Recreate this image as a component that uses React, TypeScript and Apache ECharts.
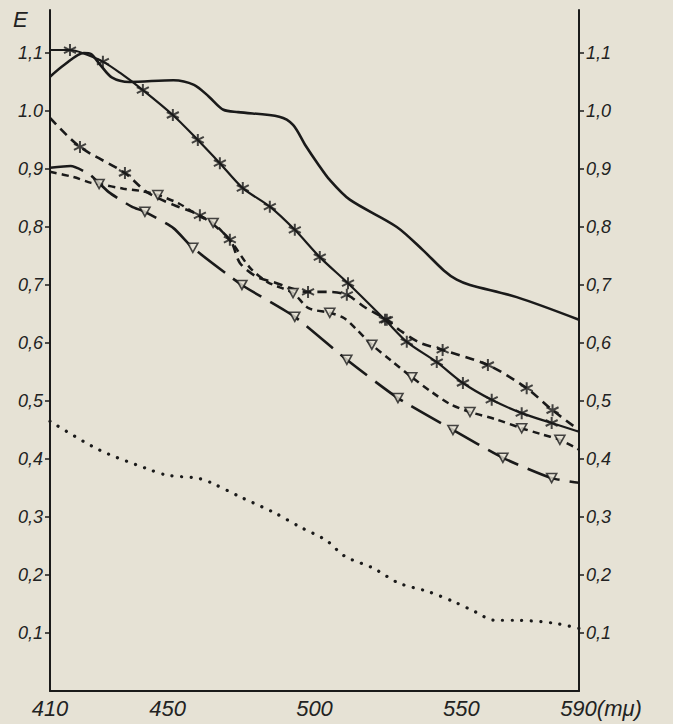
import React, { useEffect, useRef } from "react";
import * as echarts from "echarts";

// wavelength ticks (mμ) and absorbance ticks
const xTicks = [410, 450, 500, 550, 590];
const yTicks = [0.1, 0.2, 0.3, 0.4, 0.5, 0.6, 0.7, 0.8, 0.9, 1.0, 1.1];
const yLabelsLeft = ["0,1", "0,2", "0,3", "0,4", "0,5", "0,6", "0,7", "0,8", "0,9", "1.0", "1,1"];
const yLabelsRight = ["0,1", "0,2", "0,3", "0,4", "0,5", "0,6", "0,7", "0,8", "0,9", "1,0", "1,1"];

// plain solid curve
const plainCurve: [number, number][] = [
  [410, 1.059], [415, 1.08], [421.5, 1.1], [424, 1.098], [427, 1.08], [431, 1.058],
  [437, 1.05], [452, 1.053], [459, 1.045], [464, 1.025], [469, 1.002], [474, 0.998],
  [488, 0.99], [492.7, 0.976], [497, 0.94], [501, 0.91], [505.2, 0.881], [512, 0.847],
  [528, 0.8], [536.9, 0.76], [544, 0.725], [548.4, 0.709], [552.9, 0.7], [568.8, 0.679],
  [590, 0.64],
];

// solid curve with asterisks
const starSolidCurve: [number, number][] = [
  [410, 1.105], [416.8, 1.105], [421, 1.1], [428, 1.085], [434, 1.065], [441.6, 1.036],
  [451.8, 0.993], [460.3, 0.95], [467.8, 0.91], [475.6, 0.867], [484.8, 0.835],
  [493.3, 0.795], [501.8, 0.748], [511.4, 0.703], [524, 0.64], [531.4, 0.602],
  [541.6, 0.567], [550.5, 0.531], [560.3, 0.502], [570.5, 0.479], [580.7, 0.462],
  [590, 0.447],
];
const starSolidMarks: [number, number][] = [
  [416.8, 1.105], [428, 1.085], [441.6, 1.036], [451.8, 0.993], [460.3, 0.95],
  [467.8, 0.91], [475.6, 0.867], [484.8, 0.835], [493.3, 0.795], [501.8, 0.748],
  [511.4, 0.703], [524, 0.64], [531.4, 0.602], [541.6, 0.567], [550.5, 0.531],
  [560.3, 0.502], [570.5, 0.479], [580.7, 0.462],
];

// dashed curve with asterisks
const starDashCurve: [number, number][] = [
  [410, 0.988], [420.2, 0.938], [435.5, 0.893], [443, 0.86], [452, 0.838], [461, 0.82],
  [471.2, 0.778], [474.6, 0.738], [480, 0.715], [486, 0.705], [497.8, 0.688], [505, 0.688],
  [511, 0.683], [517, 0.662], [524.6, 0.64], [529, 0.622], [536, 0.6], [543.6, 0.588],
  [559, 0.562], [572.2, 0.522], [581, 0.484], [590, 0.45],
];
const starDashMarks: [number, number][] = [
  [420.2, 0.938], [435.5, 0.893], [461, 0.82], [471.2, 0.778], [497.8, 0.688],
  [511, 0.683], [524.6, 0.64], [543.6, 0.588], [559, 0.562], [572.2, 0.522], [581, 0.484],
];

// short-dashed curve with triangles
const triDashCurve: [number, number][] = [
  [410, 0.895], [418, 0.886], [424, 0.876], [426.7, 0.874], [435, 0.866], [441, 0.862],
  [446.7, 0.855], [454, 0.84], [461, 0.818], [465.5, 0.807], [472, 0.772], [478, 0.73],
  [484, 0.705], [492.7, 0.686], [498, 0.66], [505.2, 0.652], [510, 0.643], [514, 0.625],
  [519.5, 0.597], [526, 0.57], [533.1, 0.541], [540, 0.515], [546, 0.495], [552.9, 0.481],
  [562, 0.468], [570.5, 0.453], [577, 0.443], [583.5, 0.433], [590, 0.416],
];
const triDashMarks: [number, number][] = [
  [426.7, 0.874], [446.7, 0.855], [465.5, 0.807], [492.7, 0.686], [505.2, 0.652],
  [519.5, 0.597], [533.1, 0.541], [552.9, 0.481], [570.5, 0.453], [583.5, 0.433],
];

// long-dashed curve with triangles
const triLongCurve: [number, number][] = [
  [410, 0.902], [417, 0.905], [423.6, 0.89], [430, 0.86], [437.8, 0.835], [442.3, 0.826],
  [452, 0.798], [458.6, 0.764], [475.3, 0.7], [493.3, 0.645], [511, 0.571], [528.4, 0.505],
  [547.1, 0.45], [564.1, 0.402], [580.7, 0.367], [590, 0.359],
];
const triLongMarks: [number, number][] = [
  [442.3, 0.826], [458.6, 0.764], [475.3, 0.7], [493.3, 0.645], [511, 0.571],
  [528.4, 0.505], [547.1, 0.45], [564.1, 0.402], [580.7, 0.367],
];

// dotted curve
const dottedCurve: [number, number][] = [
  [410, 0.465], [426.6, 0.416], [442.6, 0.384], [449.9, 0.372], [460, 0.367], [464.4, 0.36],
  [474.6, 0.335], [486.5, 0.307], [495, 0.283], [503.9, 0.26], [510.4, 0.232], [519.9, 0.212],
  [528.7, 0.186], [538.9, 0.171], [547.8, 0.153], [554.9, 0.136], [561, 0.122], [568.2, 0.122],
  [581.4, 0.117], [590, 0.108],
];

const INK = "#1a1a1a";
const PAPER = "#e6e2d5";
const STAR = "path://M5,0L5,10M0.67,2.5L9.33,7.5M0.67,7.5L9.33,2.5";
const FONT = "Liberation Sans";

export default function App() {
  const ref = useRef<HTMLDivElement>(null);
  useEffect(() => {
    document.body.style.margin = "0";
    if (!ref.current) return;
    const chart = echarts.init(ref.current, null, { renderer: "svg" });
    const lineSeries = (data: [number, number][], type: any, width: number, smooth: number, extra: any = {}) => ({
      type: "line",
      data,
      showSymbol: false,
      symbol: "none",
      smooth,
      lineStyle: { color: INK, width, type, ...extra },
      z: 2,
      silent: true,
    });
    const starMarks = (data: [number, number][]) => ({
      type: "scatter",
      data,
      symbol: STAR,
      symbolSize: 12,
      itemStyle: { color: INK, borderColor: INK, borderWidth: 2 },
      z: 4,
      silent: true,
    });
    const triMarks = (data: [number, number][]) => ({
      type: "scatter",
      data,
      symbol: "triangle",
      symbolRotate: 180,
      symbolSize: [10, 9],
      itemStyle: { color: PAPER, borderColor: INK, borderWidth: 1.6 },
      z: 4,
      silent: true,
    });
    const yAxisBase = (labels: string[], position: string) => ({
      type: "value",
      position,
      min: 0,
      max: 1.174,
      splitLine: { show: false },
      axisLine: { show: true, lineStyle: { color: INK, width: 2 } },
      axisTick: { show: true, length: 5, customValues: yTicks, lineStyle: { color: INK, width: 1.5 } },
      axisLabel: {
        customValues: yTicks,
        margin: 7,
        color: "#222",
        fontFamily: FONT,
        fontStyle: "italic",
        fontSize: 18,
        formatter: (v: number) => {
          const i = yTicks.findIndex((t) => Math.abs(t - v) < 1e-6);
          return i >= 0 ? labels[i] : "";
        },
      },
    });
    chart.setOption({
      animation: false,
      backgroundColor: PAPER,
      grid: { left: 50, right: 94, top: 10, bottom: 33 },
      xAxis: {
        type: "value",
        min: 410,
        max: 590,
        splitLine: { show: false },
        axisLine: { show: true, onZero: false, lineStyle: { color: INK, width: 2 } },
        axisTick: { show: false },
        axisLabel: {
          customValues: xTicks,
          showMaxLabel: true,
          showMinLabel: true,
          margin: 6,
          color: "#222",
          fontFamily: FONT,
          fontStyle: "italic",
          fontSize: 22,
          formatter: (v: number) => (Math.abs(v - 590) < 1e-6 ? "{p|}590{m|(mμ)}" : String(v)),
          rich: {
            p: { width: 44 },
            m: { fontFamily: FONT, fontStyle: "italic", fontSize: 22, color: "#222" },
          },
        },
      },
      yAxis: [yAxisBase(yLabelsLeft, "left"), yAxisBase(yLabelsRight, "right")],
      graphic: [
        {
          type: "text",
          left: 13,
          top: 8,
          style: { text: "E", fill: "#222", font: `italic 22px '${FONT}'` },
        },
      ],
      series: [
        lineSeries(plainCurve, "solid", 2.6, 0.3),
        lineSeries(starSolidCurve, "solid", 2.2, 0.3),
        lineSeries(starDashCurve, [9, 6], 2.6, 0.3),
        lineSeries(triDashCurve, [7, 5], 2.5, 0.3),
        lineSeries(triLongCurve, [34, 10], 2.6, 0.2),
        lineSeries(dottedCurve, [0.1, 9.5], 3.2, 0.3, { cap: "round" }),
        starMarks(starSolidMarks),
        starMarks(starDashMarks),
        triMarks(triDashMarks),
        triMarks(triLongMarks),
      ],
    });
    return () => chart.dispose();
  }, []);
  return <div ref={ref} style={{ width: 673, height: 724 }} />;
}
